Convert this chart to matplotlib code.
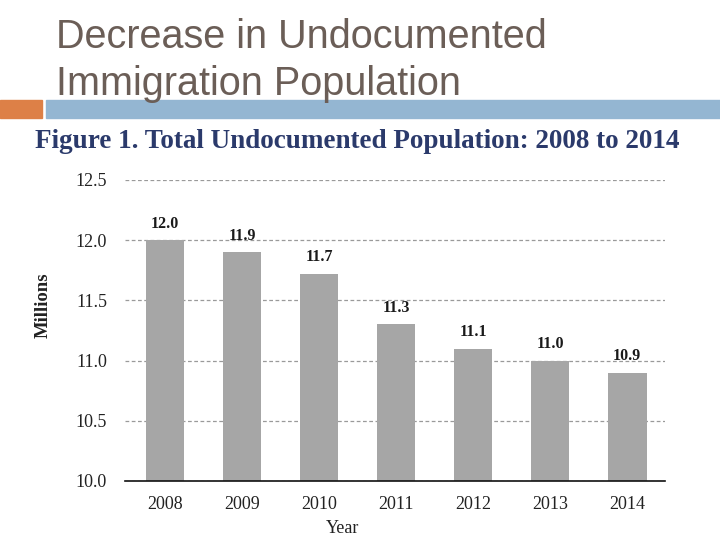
import matplotlib
matplotlib.use("Agg")
import matplotlib.pyplot as plt
from matplotlib.patches import Rectangle

years = ["2008", "2009", "2010", "2011", "2012", "2013", "2014"]
values = [12.0, 11.9, 11.72, 11.3, 11.1, 11.0, 10.9]
labels = ["12.0", "11.9", "11.7", "11.3", "11.1", "11.0", "10.9"]
yticks = [10.0, 10.5, 11.0, 11.5, 12.0, 12.5]

fig = plt.figure(figsize=(7.2, 5.4), dpi=100)

# slide title
fig.text(56/720, 1-37/540, "Decrease in Undocumented", fontsize=28.5, color="#6b5e57",
         family="Liberation Sans", va="center", ha="left")
fig.text(56/720, 1-84/540, "Immigration Population", fontsize=28.5, color="#6b5e57",
         family="Liberation Sans", va="center", ha="left")
fig.patches.append(Rectangle((0, 1-118/540), 42/720, 18/540, transform=fig.transFigure,
                             color="#dd8047", zorder=0))
fig.patches.append(Rectangle((46/720, 1-118/540), 674/720, 18/540, transform=fig.transFigure,
                             color="#94b6d2", zorder=0))

fig.text(357/720, 1-141/540, "Figure 1. Total Undocumented Population: 2008 to 2014",
         fontsize=19.5, color="#2b3a6b", family="Liberation Serif", weight="bold",
         va="center", ha="center")

ax = fig.add_axes([125/720, 1-481/540, 540/720, 301/540])
x = list(range(len(years)))
ax.bar(x, values, width=0.5, color="#a6a6a6", zorder=2)
for xi, v, lab in zip(x, values, labels):
    ax.text(xi, v + 0.07, lab, ha="center", va="bottom", fontsize=11.5,
            family="Liberation Serif", weight="bold", color="#1a1a1a")
ax.set_ylim(10.0, 12.5)
ax.set_xlim(-0.52, 6.49)
ax.set_yticks(yticks)
ax.set_yticklabels([f"{t:.1f}" for t in yticks], family="Liberation Serif", fontsize=13,
                   color="#222222")
ax.set_xticks(x)
ax.set_xticklabels(years, family="Liberation Serif", fontsize=13, color="#222222")
ax.yaxis.grid(True, linestyle=(0, (3, 2)), color="#9a9a9a", linewidth=0.9, zorder=0)
ax.tick_params(axis="x", length=0, pad=11)
ax.tick_params(axis="y", length=0, pad=13)
for s in ["left", "right", "top"]:
    ax.spines[s].set_visible(False)
ax.spines["bottom"].set_color("#111111")
ax.spines["bottom"].set_linewidth(1.2)
ax.spines["bottom"].set_zorder(3)
ax.set_ylabel("Millions", family="Liberation Serif", fontsize=13.5, weight="bold",
              color="#222222")
ax.yaxis.set_label_coords(-0.135, 0.585)
ax.set_xlabel("Year", family="Liberation Serif", fontsize=13, color="#222222")
ax.xaxis.set_label_coords(0.403, -0.128)

fig.savefig("out.png", dpi=100)
